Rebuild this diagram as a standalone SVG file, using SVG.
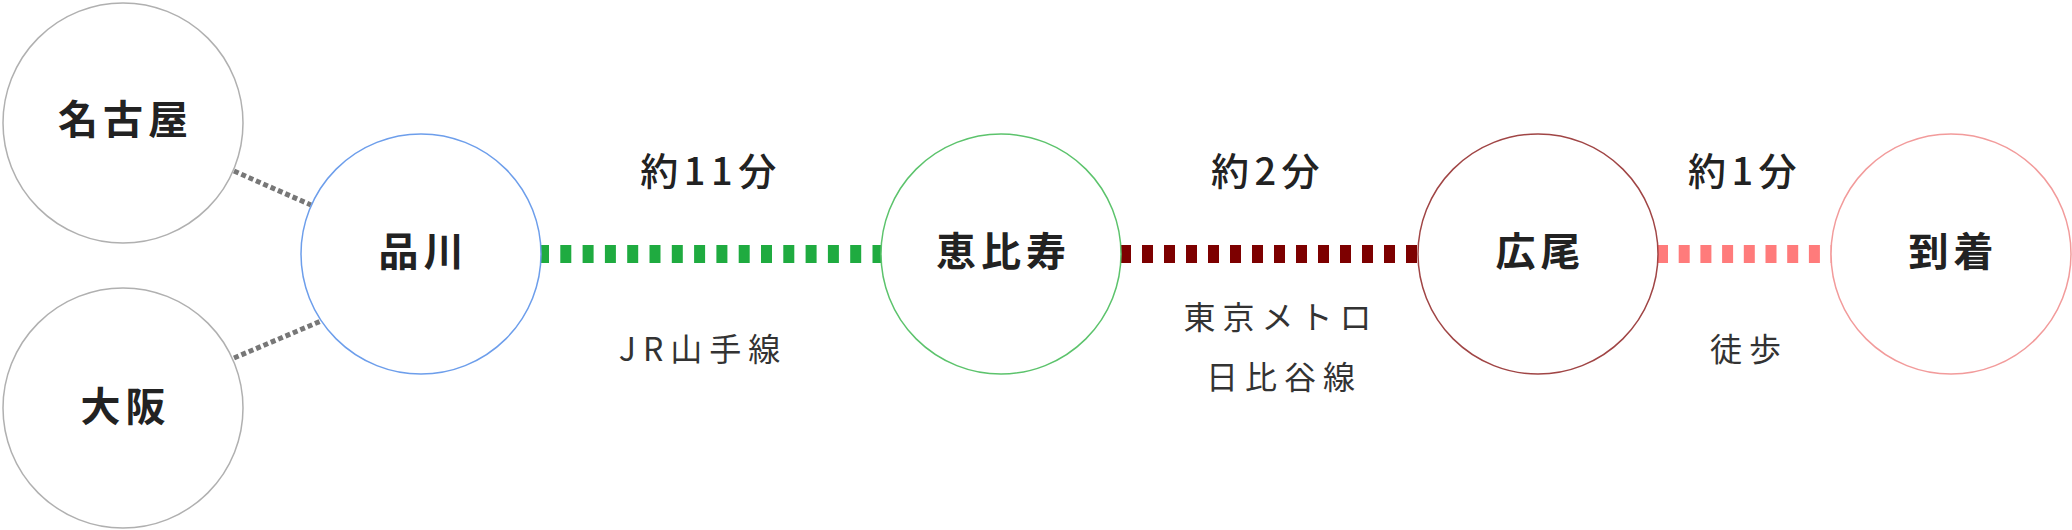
<svg xmlns="http://www.w3.org/2000/svg" width="2072" height="530" viewBox="0 0 2072 530">
<style>
.node circle{fill:#fff;stroke-width:1.5}
.nl{font-family:"Noto Sans CJK JP","Noto Sans",sans-serif;font-weight:700;font-size:40px;letter-spacing:5px;fill:#222;text-anchor:middle}
.tl{font-family:"Noto Sans CJK JP","Noto Sans",sans-serif;font-weight:500;font-size:38px;letter-spacing:5.5px;fill:#222;text-anchor:middle}
.ll{font-family:"Noto Sans CJK JP","Noto Sans",sans-serif;font-weight:400;font-size:32px;letter-spacing:7px;fill:#333;text-anchor:middle}
.gray{stroke:#777;stroke-width:5;stroke-dasharray:5 3;fill:none}
.rail{stroke-width:18;fill:none}
</style>
<rect width="2072" height="530" fill="#fff"/>
<g id="connectors">
<line class="gray" x1="234" y1="171" x2="311" y2="205"/>
<line class="gray" x1="234" y1="358" x2="321" y2="321"/>
<line class="rail" x1="538" y1="254" x2="884" y2="254" stroke="#1fab40" stroke-dasharray="11 11.3"/>
<line class="rail" x1="1120" y1="254" x2="1420" y2="254" stroke="#7d0000" stroke-dasharray="11 11"/>
<line class="rail" x1="1657" y1="254" x2="1832" y2="254" stroke="#ff7b7b" stroke-dasharray="11 10.7"/>
</g>
<g id="labels">
<text class="tl" x="711" y="185">約11分</text>
<text class="ll" x="703" y="361">JR山手線</text>
<text class="tl" x="1268" y="185">約2分</text>
<text class="ll" x="1281" y="329">東京メトロ</text>
<text class="ll" x="1284" y="389">日比谷線</text>
<text class="tl" x="1745" y="185">約1分</text>
<text class="ll" x="1749" y="361">徒歩</text>
</g>
<g id="node-nagoya" class="node">
<circle cx="123" cy="123" r="120" stroke="#b0b0b0"/>
<text class="nl" x="125.5" y="134">名古屋</text>
</g>
<g id="node-osaka" class="node">
<circle cx="123" cy="408" r="120" stroke="#b0b0b0"/>
<text class="nl" x="125.5" y="421">大阪</text>
</g>
<g id="node-shinagawa" class="node">
<circle cx="421" cy="254" r="120" stroke="#6d9eeb"/>
<text class="nl" x="423.5" y="266">品川</text>
</g>
<g id="node-ebisu" class="node">
<circle cx="1001" cy="254" r="120" stroke="#5cc36c"/>
<text class="nl" x="1003.5" y="266">恵比寿</text>
</g>
<g id="node-hiroo" class="node">
<circle cx="1538" cy="254" r="120" stroke="#a04545"/>
<text class="nl" x="1540.5" y="266">広尾</text>
</g>
<g id="node-arrival" class="node">
<circle cx="1951" cy="254" r="120" stroke="#f29b9b"/>
<text class="nl" x="1953.5" y="266">到着</text>
</g>
</svg>
